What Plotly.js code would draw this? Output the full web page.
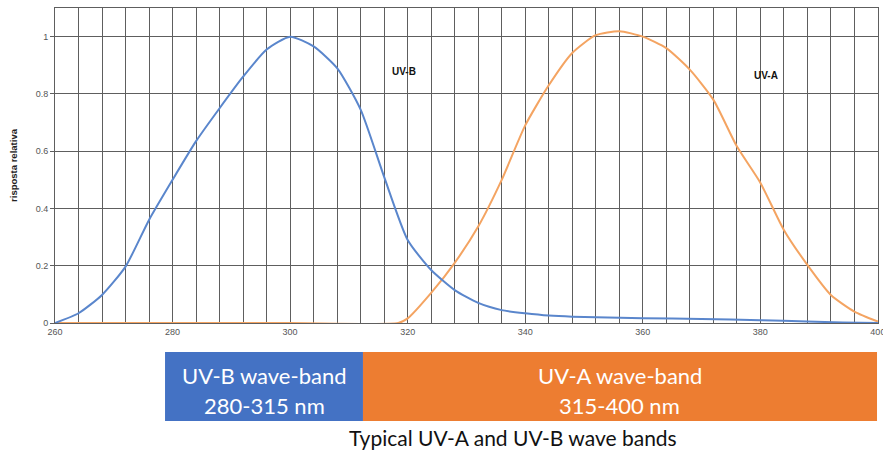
<!DOCTYPE html>
<html>
<head>
<meta charset="utf-8">
<script src="https://cdn.plot.ly/plotly-3.0.1.min.js"></script>
<style>html,body{margin:0;padding:0;background:#fff;}#chart{width:883px;height:450px;}</style>
</head>
<body>
<div id="chart"></div>
<script>
// Wavelength (nm) and relative response
const uvbX = [260, 264, 268, 272, 276, 280, 284, 288, 292, 296, 300, 304, 308, 312, 316, 320, 324, 328, 332, 336, 340, 344, 348, 352, 360, 370, 380, 388, 394, 400];
const uvbY = [0, 0.034, 0.098, 0.197, 0.36, 0.5, 0.635, 0.75, 0.86, 0.955, 1.0, 0.966, 0.89, 0.745, 0.51, 0.29, 0.185, 0.115, 0.07, 0.045, 0.034, 0.026, 0.022, 0.02, 0.017, 0.014, 0.01, 0.005, 0.002, 0];

const uvaX = [260, 300, 318.4, 320, 324, 328, 332, 336, 340, 344, 348, 352, 356, 360, 364, 368, 372, 376, 380, 384, 388, 392, 396, 400];
const uvaY = [0, 0, 0, 0.016, 0.105, 0.21, 0.337, 0.5, 0.69, 0.83, 0.943, 1.005, 1.019, 1.0, 0.96, 0.885, 0.78, 0.617, 0.49, 0.325, 0.203, 0.098, 0.04, 0.005];

const xTicks = [260, 280, 300, 320, 340, 360, 380, 400];
const yTicks = [0, 0.2, 0.4, 0.6, 0.8, 1];
const yTickText = ['0', '0.2', '0.4', '0.6', '0.8', '1'];

const curveLabels = ['UV-B', 'UV-A'];
const curveLabelX = [319.4, 381];
const curveLabelY = [0.878, 0.865];

const bandNames = ['UV-B wave-band', 'UV-A wave-band'];
const bandRanges = ['280-315 nm', '315-400 nm'];
const bandColors = ['#4472C4', '#ED7D31'];
const chartCaption = 'Typical UV-A and UV-B wave bands';

const gridCol = '#5e5e5e';

const traces = [
  {x: uvaX, y: uvaY, mode: 'lines', line: {color: '#f4a462', width: 2, shape: 'spline', smoothing: 0.6}, hoverinfo: 'skip', cliponaxis: false},
  {x: uvbX, y: uvbY, mode: 'lines', line: {color: '#5a86cc', width: 2, shape: 'spline', smoothing: 0.6}, hoverinfo: 'skip', cliponaxis: false}
];

// band geometry (paper coords, below the plot area)
const bandEdges = [0.1337, 0.3742, 0.9988];
const bandTop = -0.092, bandBottom = -0.311;

const shapes = bandNames.map((n, i) => ({
  type: 'rect', xref: 'paper', yref: 'paper',
  x0: bandEdges[i], x1: bandEdges[i + 1], y0: bandBottom, y1: bandTop,
  fillcolor: bandColors[i], line: {width: 0}, layer: 'above'
}));

const annotations = [];
curveLabels.forEach((t, i) => annotations.push({
  x: curveLabelX[i], y: curveLabelY[i], xref: 'x', yref: 'y', text: '<b>' + t + '</b>',
  xanchor: 'center', yanchor: 'middle',
  showarrow: false, font: {family: 'Liberation Sans, Arial', size: 10, color: '#111'}
}));
bandNames.forEach((n, i) => {
  const cx = (bandEdges[i] + bandEdges[i + 1]) / 2;
  annotations.push({x: cx, y: -0.168, xref: 'paper', yref: 'paper', text: n, showarrow: false,
    xanchor: 'center', yanchor: 'middle',
    font: {family: 'Lato, Open Sans', size: 22, color: '#ffffff'}});
  annotations.push({x: cx, y: -0.262, xref: 'paper', yref: 'paper', text: bandRanges[i], showarrow: false,
    xanchor: 'center', yanchor: 'middle',
    font: {family: 'Lato, Open Sans', size: 22, color: '#ffffff'}});
});
annotations.push({x: 0.5565, y: -0.364, xref: 'paper', yref: 'paper', text: chartCaption, showarrow: false,
  xanchor: 'center', yanchor: 'middle',
  font: {family: 'Lato, Open Sans', size: 21, color: '#111'}});

const layout = {
  width: 883, height: 450,
  margin: {l: 55, r: 5, t: 8, b: 127},
  paper_bgcolor: '#fff', plot_bgcolor: '#fff',
  showlegend: false,
  xaxis: {
    range: [260, 400.02], tickvals: xTicks, ticktext: xTicks.map(String),
    ticklabeloverflow: 'allow',
    showgrid: true, gridcolor: gridCol, gridwidth: 1,
    minor: {dtick: 4, tick0: 260, showgrid: true, gridcolor: gridCol, gridwidth: 1},
    showline: true, linecolor: gridCol, linewidth: 1, mirror: true,
    zeroline: false, ticks: '', tickfont: {family: 'Liberation Sans, Arial', size: 9, color: '#555'}
  },
  yaxis: {
    range: [0, 1.1], tickvals: yTicks, ticktext: yTickText,
    showgrid: true, gridcolor: gridCol, gridwidth: 1,
    showline: true, linecolor: gridCol, linewidth: 1, mirror: true,
    zeroline: false, ticks: 'outside', ticklen: 4, tickcolor: gridCol,
    tickfont: {family: 'Liberation Sans, Arial', size: 9, color: '#555'},
    title: {text: '<b>risposta relativa</b>', font: {family: 'Liberation Sans, Arial', size: 9.5, color: '#222'}, standoff: 16}
  },
  shapes: shapes,
  annotations: annotations
};

Plotly.newPlot('chart', traces, layout, {displayModeBar: false, staticPlot: true});
</script>
</body>
</html>
